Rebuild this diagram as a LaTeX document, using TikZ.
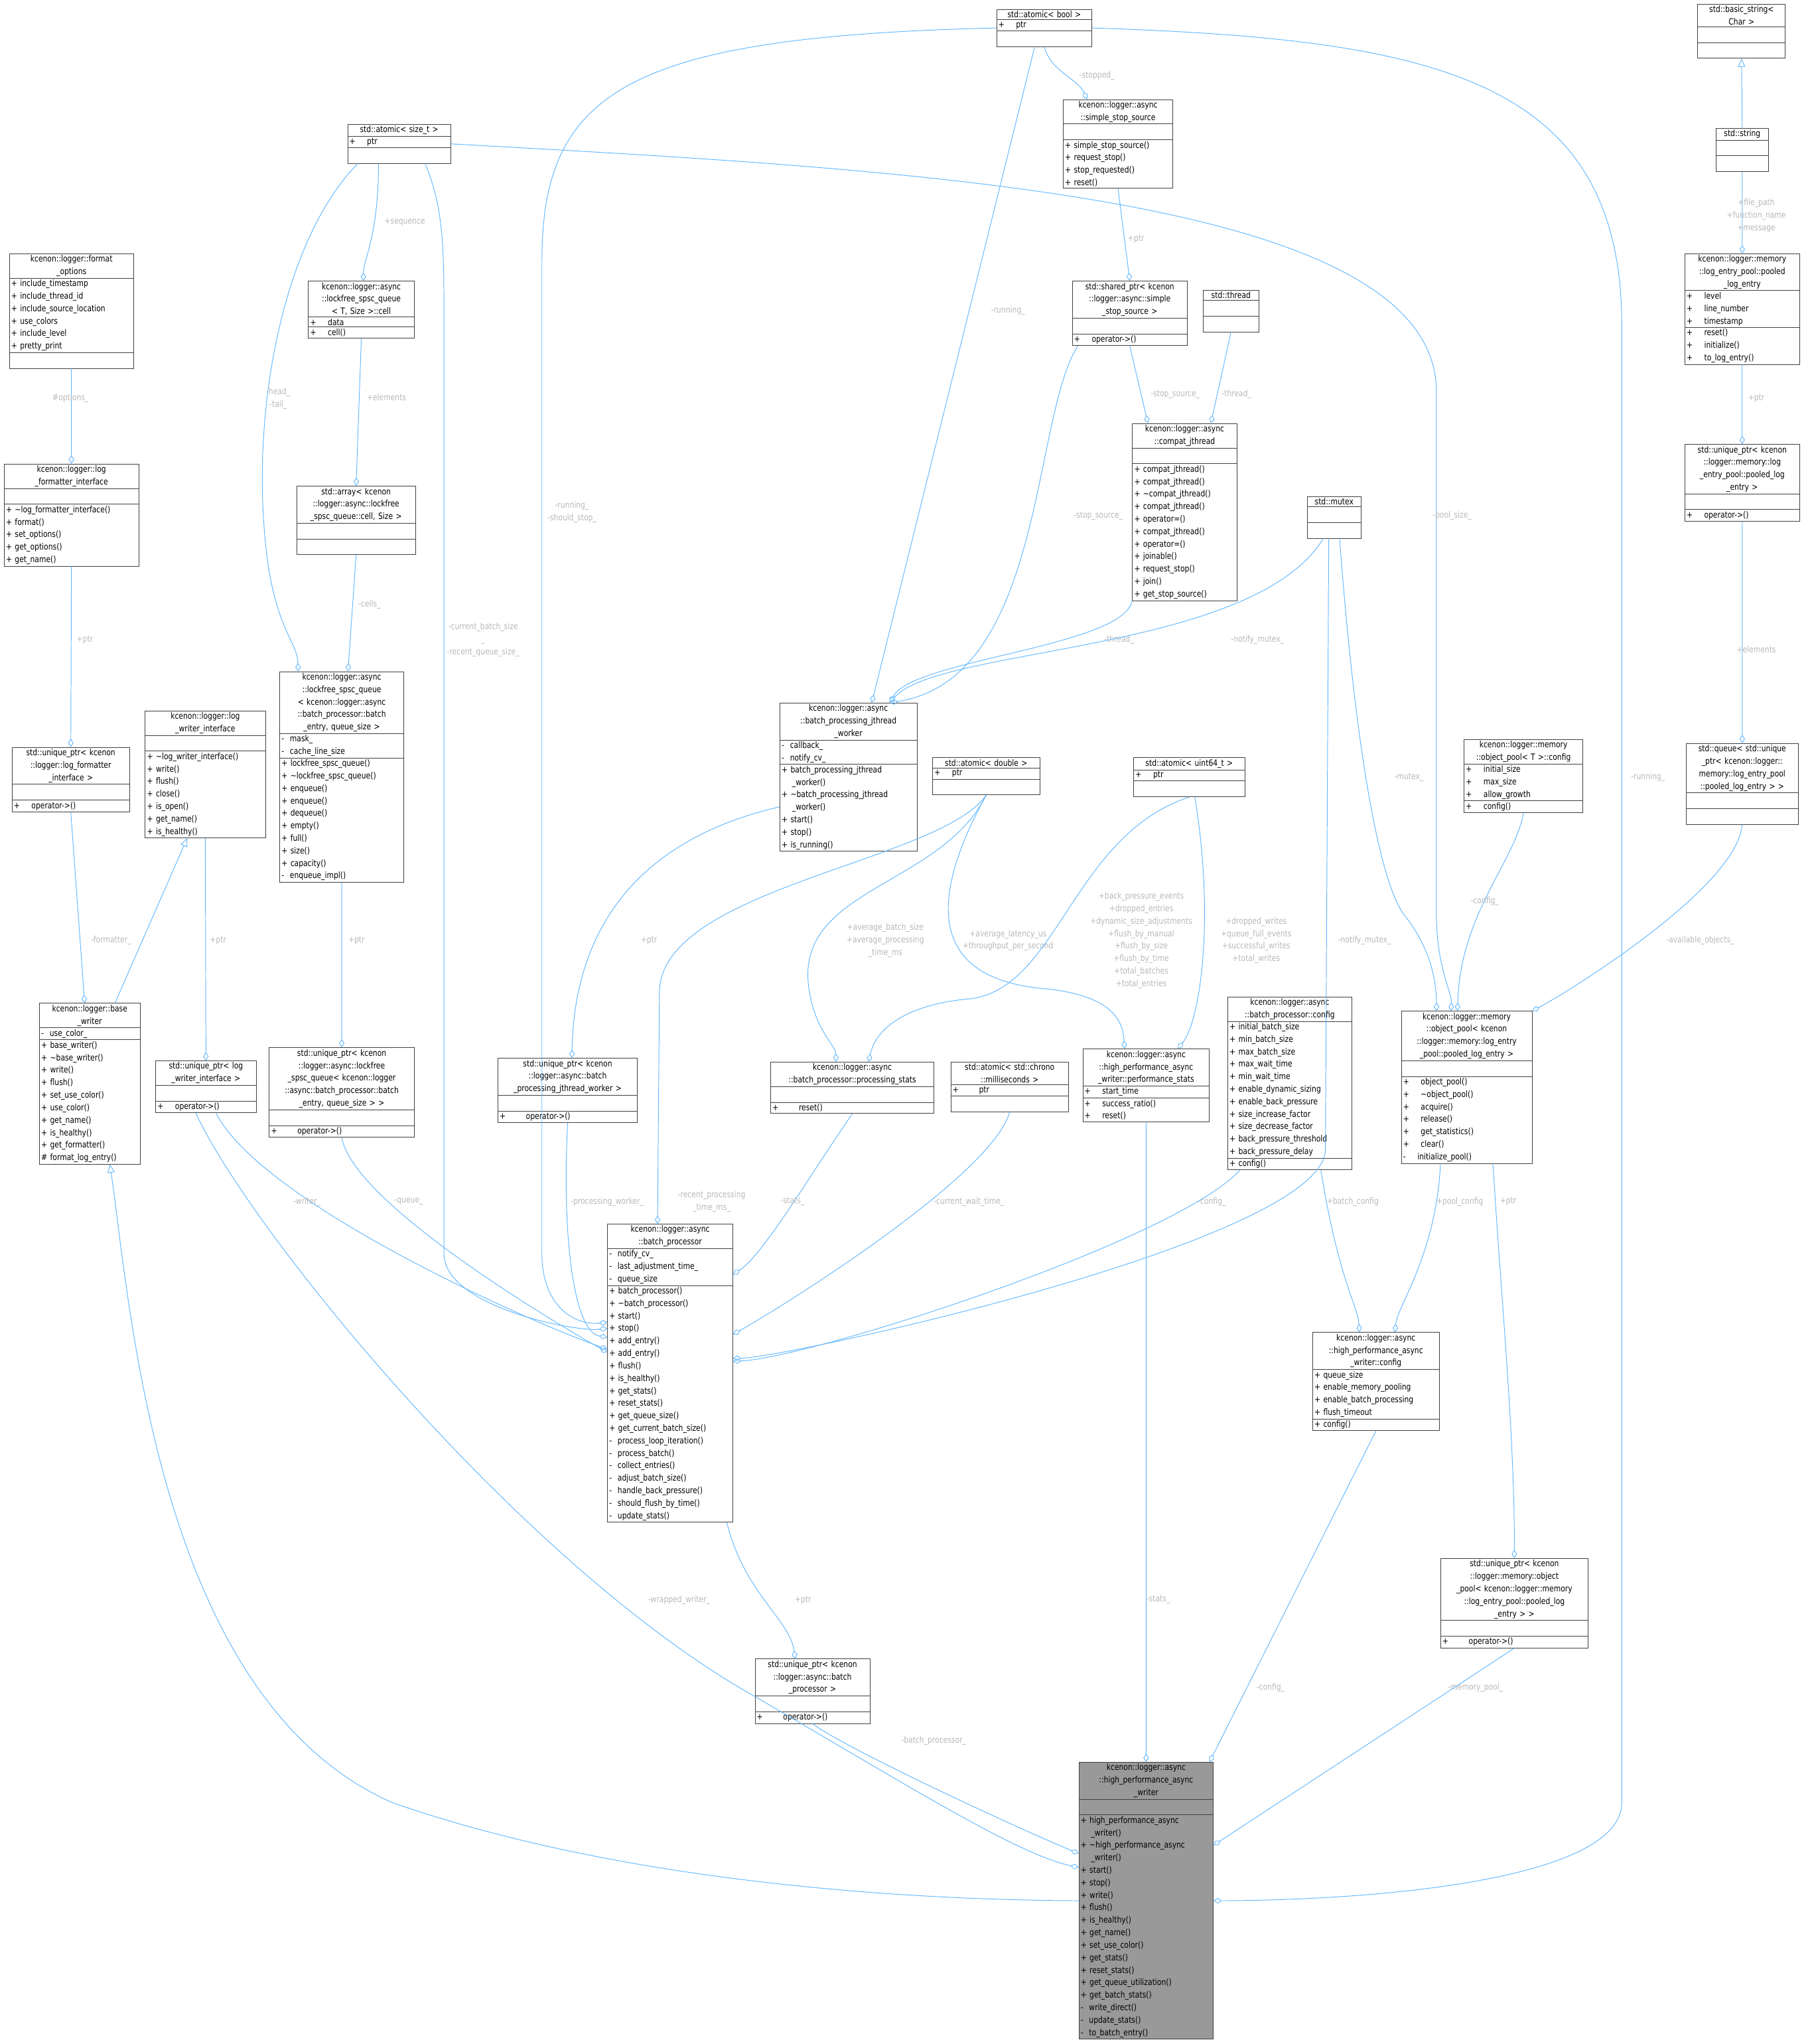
\documentclass[tikz,border=0pt]{standalone}
\usepackage{fontspec}
\usetikzlibrary{shapes.multipart,arrows.meta,calc}
\newfontfamily\dxfont[FakeStretch=0.82]{DejaVu Sans}
\newcommand\dx{\dxfont\fontsize{9.5}{13.6}\selectfont}
\newcommand\ttl[1]{\centering #1\par}
\definecolor{edgeblue}{HTML}{63B8FF}
\definecolor{lblgray}{HTML}{B8B8B8}
\tikzset{
  cls/.style={draw=black!75, line width=0.6pt, rectangle split, rectangle split parts=3,
    anchor=north west, inner xsep=2pt, inner ysep=1.5pt, font=\dx, fill=white},
  cw/.code={\pgfmathsetmacro\clsw{#1*1.4226-4}\tikzset{text width=\clsw pt}},
  mainc/.style={cls, fill=black!40},
  agg/.style={draw=edgeblue, line width=0.7pt, -{Diamond[open,length=9pt,width=6pt]}},
  inh/.style={draw=edgeblue, line width=0.7pt, {Triangle[open,length=9pt,width=8pt]}-},
  lbl/.style={text=lblgray, font=\dx, align=center, inner sep=0pt},
}
\begin{document}
\begin{tikzpicture}[x=0.05cm,y=-0.05cm]
  \useasboundingbox (0,0) rectangle (1389,1565);

  % Class boxes, top row
  \node[cls,cw=73] (atomicbool) at (763,7) {\ttl{std::atomic< bool >}\nodepart{two}+ \quad ptr\nodepart{three}\strut};
  \node[cls,cw=67] (basicstring) at (1300,3) {\ttl{std::basic\_string<\\Char >}\nodepart{two}\strut\nodepart{three}\strut};
  \node[cls,cw=84] (stopsource) at (814,76) {\ttl{kcenon::logger::async\\::simple\_stop\_source}\nodepart{two}\strut\nodepart{three}+ simple\_stop\_source()\\+ request\_stop()\\+ stop\_requested()\\+ reset()};
  \node[cls,cw=40] (stdstring) at (1314,98) {\ttl{std::string}\nodepart{two}\strut\nodepart{three}\strut};
  \node[cls,cw=79] (atomicsize) at (266,95) {\ttl{std::atomic< size\_t >}\nodepart{two}+ \quad ptr\nodepart{three}\strut};
  \node[cls,cw=95] (fmtoptions) at (7,194) {\ttl{kcenon::logger::format\\\_options}\nodepart{two}+ include\_timestamp\\+ include\_thread\_id\\+ include\_source\_location\\+ use\_colors\\+ include\_level\\+ pretty\_print\nodepart{three}\strut};
  \node[cls,cw=81] (spsccell) at (236,215) {\ttl{kcenon::logger::async\\::lockfree\_spsc\_queue\\< T, Size >::cell}\nodepart{two}+ \quad data\nodepart{three}+ \quad cell()};
  \node[cls,cw=88] (sharedstop) at (821,215) {\ttl{std::shared\_ptr< kcenon\\::logger::async::simple\\\_stop\_source >}\nodepart{two}\strut\nodepart{three}+ \quad operator->()};
  \node[cls,cw=43] (stdthread) at (921,222) {\ttl{std::thread}\nodepart{two}\strut\nodepart{three}\strut};
  \node[cls,cw=88] (pooledentry) at (1290,194) {\ttl{kcenon::logger::memory\\::log\_entry\_pool::pooled\\\_log\_entry}\nodepart{two}+ \quad level\\+ \quad line\_number\\+ \quad timestamp\nodepart{three}+ \quad reset()\\+ \quad initialize()\\+ \quad to\_log\_entry()};

  % Second row
  \node[cls,cw=103] (fmtiface) at (3,355) {\ttl{kcenon::logger::log\\\_formatter\_interface}\nodepart{two}\strut\nodepart{three}+ \textasciitilde log\_formatter\_interface()\\+ format()\\+ set\_options()\\+ get\_options()\\+ get\_name()};
  \node[cls,cw=91] (cellarray) at (227,372) {\ttl{std::array< kcenon\\::logger::async::lockfree\\\_spsc\_queue::cell, Size >}\nodepart{two}\strut\nodepart{three}\strut};
  \node[cls,cw=80] (jthread) at (867,324) {\ttl{kcenon::logger::async\\::compat\_jthread}\nodepart{two}\strut\nodepart{three}+ compat\_jthread()\\+ compat\_jthread()\\+ \textasciitilde compat\_jthread()\\+ compat\_jthread()\\+ operator=()\\+ compat\_jthread()\\+ operator=()\\+ joinable()\\+ request\_stop()\\+ join()\\+ get\_stop\_source()};
  \node[cls,cw=41] (stdmutex) at (1001,380) {\ttl{std::mutex}\nodepart{two}\strut\nodepart{three}\strut};
  \node[cls,cw=88] (uniqpooled) at (1290,340) {\ttl{std::unique\_ptr< kcenon\\::logger::memory::log\\\_entry\_pool::pooled\_log\\\_entry >}\nodepart{two}\strut\nodepart{three}+ \quad operator->()};

  % Third row
  \node[cls,cw=95] (spscqueue) at (214,514) {\ttl{kcenon::logger::async\\::lockfree\_spsc\_queue\\< kcenon::logger::async\\::batch\_processor::batch\\\_entry, queue\_size >}\nodepart{two}- \ mask\_\\- \ cache\_line\_size\nodepart{three}+ lockfree\_spsc\_queue()\\+ \textasciitilde lockfree\_spsc\_queue()\\+ enqueue()\\+ enqueue()\\+ dequeue()\\+ empty()\\+ full()\\+ size()\\+ capacity()\\- \ enqueue\_impl()};
  \node[cls,cw=92] (writeriface) at (111,544) {\ttl{kcenon::logger::log\\\_writer\_interface}\nodepart{two}\strut\nodepart{three}+ \textasciitilde log\_writer\_interface()\\+ write()\\+ flush()\\+ close()\\+ is\_open()\\+ get\_name()\\+ is\_healthy()};
  \node[cls,cw=105] (jworker) at (597,538) {\ttl{kcenon::logger::async\\::batch\_processing\_jthread\\\_worker}\nodepart{two}- \ callback\_\\- \ notify\_cv\_\nodepart{three}+ batch\_processing\_jthread\\\hspace*{1.2em}\_worker()\\+ \textasciitilde batch\_processing\_jthread\\\hspace*{1.2em}\_worker()\\+ start()\\+ stop()\\+ is\_running()};
  \node[cls,cw=90] (uniqfmt) at (9,572) {\ttl{std::unique\_ptr< kcenon\\::logger::log\_formatter\\\_interface >}\nodepart{two}\strut\nodepart{three}+ \quad operator->()};
  \node[cls,cw=82] (atomicdouble) at (714,580) {\ttl{std::atomic< double >}\nodepart{two}+ \quad ptr\nodepart{three}\strut};
  \node[cls,cw=85] (atomicuint) at (868,580) {\ttl{std::atomic< uint64\_t >}\nodepart{two}+ \quad ptr\nodepart{three}\strut};
  \node[cls,cw=91] (poolconfig) at (1121,566) {\ttl{kcenon::logger::memory\\::object\_pool< T >::config}\nodepart{two}+ \quad initial\_size\\+ \quad max\_size\\+ \quad allow\_growth\nodepart{three}+ \quad config()};
  \node[cls,cw=86] (entryqueue) at (1291,569) {\ttl{std::queue< std::unique\\\_ptr< kcenon::logger::\\memory::log\_entry\_pool\\::pooled\_log\_entry > >}\nodepart{two}\strut\nodepart{three}\strut};

  % Fourth row
  \node[cls,cw=77] (basewriter) at (30,768) {\ttl{kcenon::logger::base\\\_writer}\nodepart{two}- \ use\_color\_\nodepart{three}+ base\_writer()\\+ \textasciitilde base\_writer()\\+ write()\\+ flush()\\+ set\_use\_color()\\+ use\_color()\\+ get\_name()\\+ is\_healthy()\\+ get\_formatter()\\\# format\_log\_entry()};
  \node[cls,cw=77] (uniqwriter) at (119,812) {\ttl{std::unique\_ptr< log\\\_writer\_interface >}\nodepart{two}\strut\nodepart{three}+ \quad operator->()};
  \node[cls,cw=111] (uniqqueue) at (206,802) {\ttl{std::unique\_ptr< kcenon\\::logger::async::lockfree\\\_spsc\_queue< kcenon::logger\\::async::batch\_processor::batch\\\_entry, queue\_size > >}\nodepart{two}\strut\nodepart{three}+ \qquad operator->()};
  \node[cls,cw=107] (uniqworker) at (381,810) {\ttl{std::unique\_ptr< kcenon\\::logger::async::batch\\\_processing\_jthread\_worker >}\nodepart{two}\strut\nodepart{three}+ \qquad operator->()};
  \node[cls,cw=125] (procstats) at (590,813) {\ttl{kcenon::logger::async\\::batch\_processor::processing\_stats}\nodepart{two}\strut\nodepart{three}+ \qquad reset()};
  \node[cls,cw=90] (atomicms) at (728,813) {\ttl{std::atomic< std::chrono\\::milliseconds >}\nodepart{two}+ \qquad ptr\nodepart{three}\strut};
  \node[cls,cw=97] (perfstats) at (829,803) {\ttl{kcenon::logger::async\\::high\_performance\_async\\\_writer::performance\_stats}\nodepart{two}+ \quad start\_time\nodepart{three}+ \quad success\_ratio()\\+ \quad reset()};
  \node[cls,cw=95] (bpconfig) at (940,763) {\ttl{kcenon::logger::async\\::batch\_processor::config}\nodepart{two}+ initial\_batch\_size\\+ min\_batch\_size\\+ max\_batch\_size\\+ max\_wait\_time\\+ min\_wait\_time\\+ enable\_dynamic\_sizing\\+ enable\_back\_pressure\\+ size\_increase\_factor\\+ size\_decrease\_factor\\+ back\_pressure\_threshold\\+ back\_pressure\_delay\nodepart{three}+ config()};
  \node[cls,cw=100] (objpool) at (1073,774) {\ttl{kcenon::logger::memory\\::object\_pool< kcenon\\::logger::memory::log\_entry\\\_pool::pooled\_log\_entry >}\nodepart{two}\strut\nodepart{three}+ \quad object\_pool()\\+ \quad \textasciitilde object\_pool()\\+ \quad acquire()\\+ \quad release()\\+ \quad get\_statistics()\\+ \quad clear()\\- \quad initialize\_pool()};

  % Lower rows
  \node[cls,cw=96] (batchproc) at (465,937) {\ttl{kcenon::logger::async\\::batch\_processor}\nodepart{two}- \ notify\_cv\_\\- \ last\_adjustment\_time\_\\- \ queue\_size\nodepart{three}+ batch\_processor()\\+ \textasciitilde batch\_processor()\\+ start()\\+ stop()\\+ add\_entry()\\+ add\_entry()\\+ flush()\\+ is\_healthy()\\+ get\_stats()\\+ reset\_stats()\\+ get\_queue\_size()\\+ get\_current\_batch\_size()\\- \ process\_loop\_iteration()\\- \ process\_batch()\\- \ collect\_entries()\\- \ adjust\_batch\_size()\\- \ handle\_back\_pressure()\\- \ should\_flush\_by\_time()\\- \ update\_stats()};
  \node[cls,cw=97] (hpconfig) at (1005,1020) {\ttl{kcenon::logger::async\\::high\_performance\_async\\\_writer::config}\nodepart{two}+ queue\_size\\+ enable\_memory\_pooling\\+ enable\_batch\_processing\\+ flush\_timeout\nodepart{three}+ config()};
  \node[cls,cw=113] (uniqpool) at (1103,1193) {\ttl{std::unique\_ptr< kcenon\\::logger::memory::object\\\_pool< kcenon::logger::memory\\::log\_entry\_pool::pooled\_log\\\_entry > >}\nodepart{two}\strut\nodepart{three}+ \qquad operator->()};
  \node[cls,cw=88] (uniqbatch) at (578,1270) {\ttl{std::unique\_ptr< kcenon\\::logger::async::batch\\\_processor >}\nodepart{two}\strut\nodepart{three}+ \qquad operator->()};
  \node[mainc,cw=103] (hpwriter) at (826,1349) {\ttl{kcenon::logger::async\\::high\_performance\_async\\\_writer}\nodepart{two}\strut\nodepart{three}+ high\_performance\_async\\\hspace*{1.2em}\_writer()\\+ \textasciitilde high\_performance\_async\\\hspace*{1.2em}\_writer()\\+ start()\\+ stop()\\+ write()\\+ flush()\\+ is\_healthy()\\+ get\_name()\\+ set\_use\_color()\\+ get\_stats()\\+ reset\_stats()\\+ get\_queue\_utilization()\\+ get\_batch\_stats()\\- \ write\_direct()\\- \ update\_stats()\\- \ to\_batch\_entry()};

  % Connectors from std::atomic< bool >
  \draw[agg] (atomicbool.south) .. controls (805,55) and (825,60) .. ($(stopsource.north west)!0.22!(stopsource.north east)$);
  \node[lbl] at (840,58) {-stopped\_};
  \draw[agg] ($(atomicbool.south west)!0.4!(atomicbool.south east)$) -- ($(jworker.north west)!0.67!(jworker.north east)$);
  \node[lbl] at (772,238) {-running\_};
  \draw[agg] (atomicbool.west) .. controls (480,28) and (415,70) .. (415,200) -- (415,960) .. controls (415,1000) and (440,1015) .. ($(batchproc.north west)!0.33!(batchproc.south west)$);
  \node[lbl] at (438,392) {-running\_\\-should\_stop\_};
  \draw[agg] (atomicbool.east) .. controls (1100,30) and (1242,60) .. (1242,250) -- (1242,1380) .. controls (1242,1440) and (1050,1455) .. ($(hpwriter.north east)!0.5!(hpwriter.south east)$);
  \node[lbl] at (1262,595) {-running\_};

  % Connectors in the upper part
  \draw[agg] (stopsource.south) -- (sharedstop.north);
  \node[lbl] at (870,183) {+ptr};
  \draw[inh] (basicstring.south) -- (stdstring.north);
  \draw[agg] (stdstring.south) -- (pooledentry.north);
  \node[lbl] at (1345,165) {+file\_path\\+function\_name\\+message};
  \draw[agg] ($(atomicsize.south west)!0.3!(atomicsize.south east)$) .. controls (290,180) and (278,200) .. ($(spsccell.north west)!0.52!(spsccell.north east)$);
  \node[lbl] at (310,170) {+sequence};
  \draw[agg] ($(atomicsize.south west)!0.1!(atomicsize.south east)$) .. controls (220,180) and (195,300) .. (202,400) .. controls (207,480) and (228,490) .. ($(spscqueue.north west)!0.15!(spscqueue.north east)$);
  \node[lbl] at (213,305) {-head\_\\-tail\_};
  \draw[agg] ($(atomicsize.south west)!0.75!(atomicsize.south east)$) .. controls (340,160) and (340,190) .. (340,250) -- (340,960) .. controls (340,1000) and (440,1020) .. ($(batchproc.north west)!0.35!(batchproc.south west)$);
  \node[lbl] at (370,490) {-current\_batch\_size\\\_\\-recent\_queue\_size\_};
  \draw[agg] (atomicsize.east) .. controls (700,130) and (1100,150) .. (1100,300) -- (1100,700) .. controls (1100,740) and (1112,760) .. ($(objpool.north west)!0.38!(objpool.north east)$);
  \node[lbl] at (1112,395) {-pool\_size\_};
  \draw[agg] (fmtoptions.south) -- (fmtiface.north);
  \node[lbl] at (54,305) {\#options\_};
  \draw[agg] (spsccell.south) -- (cellarray.north);
  \node[lbl] at (296,304) {+elements};
  \draw[agg] (cellarray.south) -- ($(spscqueue.north west)!0.55!(spscqueue.north east)$);
  \node[lbl] at (283,463) {-cells\_};
  \draw[agg] (sharedstop.south) -- ($(jthread.north west)!0.15!(jthread.north east)$);
  \node[lbl] at (900,302) {-stop\_source\_};
  \draw[agg] (stdthread.south) -- ($(jthread.north west)!0.75!(jthread.north east)$);
  \node[lbl] at (947,302) {-thread\_};
  \draw[agg] ($(sharedstop.south west)!0.05!(sharedstop.south east)$) .. controls (790,320) and (800,520) .. ($(jworker.north west)!0.8!(jworker.north east)$);
  \node[lbl] at (841,395) {-stop\_source\_};
  \draw[agg] (jthread.south west) .. controls (860,495) and (700,505) .. ($(jworker.north west)!0.8!(jworker.north east)$);
  \node[lbl] at (857,490) {-thread\_};
  \draw[agg] ($(stdmutex.south west)!0.3!(stdmutex.south east)$) .. controls (960,500) and (720,495) .. ($(jworker.north west)!0.8!(jworker.north east)$);
  \node[lbl] at (963,490) {-notify\_mutex\_};
  \draw[agg] ($(stdmutex.south west)!0.6!(stdmutex.south east)$) .. controls (1040,600) and (1060,680) .. (1075,700) .. controls (1095,725) and (1100,750) .. ($(objpool.north west)!0.27!(objpool.north east)$);
  \node[lbl] at (1079,595) {-mutex\_};
  \draw[agg] ($(stdmutex.south west)!0.4!(stdmutex.south east)$) -- (1015,880) .. controls (1015,950) and (600,1040) .. ($(batchproc.north east)!0.45!(batchproc.south east)$);
  \node[lbl] at (1045,720) {-notify\_mutex\_};
  \draw[agg] (pooledentry.south) -- (uniqpooled.north);
  \node[lbl] at (1345,305) {+ptr};
  \draw[agg] (uniqpooled.south) -- (entryqueue.north);
  \node[lbl] at (1345,497) {+elements};

  % Connectors in the middle part
  \draw[agg] (fmtiface.south) -- (uniqfmt.north);
  \node[lbl] at (65,490) {+ptr};
  \draw[agg] (uniqfmt.south) -- ($(basewriter.north west)!0.45!(basewriter.north east)$);
  \node[lbl] at (85,720) {-formatter\_};
  \draw[inh] ($(writeriface.south west)!0.35!(writeriface.south east)$) -- ($(basewriter.north west)!0.75!(basewriter.north east)$);
  \draw[agg] ($(writeriface.south west)!0.5!(writeriface.south east)$) -- (uniqwriter.north);
  \node[lbl] at (167,720) {+ptr};
  \draw[agg] (spscqueue.south) -- (uniqqueue.north);
  \node[lbl] at (273,720) {+ptr};
  \draw[agg] ($(jworker.north west)!0.7!(jworker.south west)$) .. controls (500,640) and (440,700) .. ($(uniqworker.north west)!0.53!(uniqworker.north east)$);
  \node[lbl] at (497,720) {+ptr};
  \draw[agg] (atomicdouble.south) .. controls (720,680) and (605,680) .. (620,760) .. controls (625,790) and (640,800) .. ($(procstats.north west)!0.4!(procstats.north east)$);
  \node[lbl] at (678,720) {+average\_batch\_size\\+average\_processing\\\_time\_ms};
  \draw[agg] (atomicdouble.south) .. controls (705,700) and (720,750) .. (800,757) .. controls (850,762) and (860,780) .. ($(perfstats.north west)!0.33!(perfstats.north east)$);
  \node[lbl] at (772,720) {+average\_latency\_us\\+throughput\_per\_second};
  \draw[agg] (atomicdouble.south) .. controls (720,660) and (505,680) .. (505,760) -- ($(batchproc.north west)!0.4!(batchproc.north east)$);
  \node[lbl] at (545,920) {-recent\_processing\\\_time\_ms\_};
  \draw[agg] (atomicuint.south) .. controls (820,640) and (810,760) .. (740,765) .. controls (690,770) and (670,790) .. ($(procstats.north west)!0.6!(procstats.north east)$);
  \node[lbl] at (874,720) {+back\_pressure\_events\\+dropped\_entries\\+dynamic\_size\_adjustments\\+flush\_by\_manual\\+flush\_by\_size\\+flush\_by\_time\\+total\_batches\\+total\_entries};
  \draw[agg] ($(atomicuint.south west)!0.55!(atomicuint.south east)$) .. controls (930,700) and (920,780) .. ($(perfstats.north west)!0.75!(perfstats.north east)$);
  \node[lbl] at (962,720) {+dropped\_writes\\+queue\_full\_events\\+successful\_writes\\+total\_writes};
  \draw[agg] (poolconfig.south) .. controls (1160,660) and (1118,700) .. ($(objpool.north west)!0.43!(objpool.north east)$);
  \node[lbl] at (1137,690) {-config\_};
  \draw[agg] (entryqueue.south) .. controls (1330,680) and (1200,760) .. (objpool.north east);
  \node[lbl] at (1302,720) {-available\_objects\_};

  % Connectors into batch_processor
  \draw[agg] ($(uniqwriter.south west)!0.6!(uniqwriter.south east)$) .. controls (200,920) and (400,1010) .. ($(batchproc.north west)!0.42!(batchproc.south west)$);
  \node[lbl] at (235,920) {-writer\_};
  \draw[agg] (uniqqueue.south) .. controls (270,920) and (420,1010) .. ($(batchproc.north west)!0.43!(batchproc.south west)$);
  \node[lbl] at (313,920) {-queue\_};
  \draw[agg] (uniqworker.south) .. controls (430,950) and (440,1020) .. ($(batchproc.north west)!0.38!(batchproc.south west)$);
  \node[lbl] at (465,920) {-processing\_worker\_};
  \draw[agg] (procstats.south) .. controls (620,900) and (585,960) .. ($(batchproc.north east)!0.17!(batchproc.south east)$);
  \node[lbl] at (607,920) {-stats\_};
  \draw[agg] (atomicms.south) .. controls (760,900) and (600,1000) .. ($(batchproc.north east)!0.37!(batchproc.south east)$);
  \node[lbl] at (742,920) {-current\_wait\_time\_};
  \draw[agg] ($(bpconfig.south west)!0.1!(bpconfig.south east)$) .. controls (900,950) and (620,1040) .. ($(batchproc.north east)!0.46!(batchproc.south east)$);
  \node[lbl] at (928,920) {-config\_};

  % Connectors into the config and pool
  \draw[agg] ($(bpconfig.south west)!0.75!(bpconfig.south east)$) .. controls (1025,980) and (1040,1000) .. ($(hpconfig.north west)!0.37!(hpconfig.north east)$);
  \node[lbl] at (1036,920) {+batch\_config};
  \draw[agg] ($(objpool.south west)!0.3!(objpool.south east)$) .. controls (1100,960) and (1070,1000) .. ($(hpconfig.north west)!0.65!(hpconfig.north east)$);
  \node[lbl] at (1118,920) {+pool\_config};
  \draw[agg] ($(objpool.south west)!0.7!(objpool.south east)$) .. controls (1150,1000) and (1160,1100) .. (uniqpool.north);
  \node[lbl] at (1155,920) {+ptr};

  % Connectors into high_performance_async_writer
  \draw[inh] ($(basewriter.south west)!0.7!(basewriter.south east)$) .. controls (100,1000) and (120,1300) .. (300,1380) .. controls (500,1450) and (750,1455) .. ($(hpwriter.north west)!0.5!(hpwriter.south west)$);
  \draw[agg] ($(uniqwriter.south west)!0.4!(uniqwriter.south east)$) .. controls (190,940) and (400,1200) .. (580,1300) .. controls (700,1370) and (780,1420) .. ($(hpwriter.north west)!0.38!(hpwriter.south west)$);
  \node[lbl] at (520,1225) {-wrapped\_writer\_};
  \draw[agg] ($(batchproc.south west)!0.95!(batchproc.south east)$) .. controls (570,1220) and (605,1240) .. ($(uniqbatch.north west)!0.35!(uniqbatch.north east)$);
  \node[lbl] at (615,1225) {+ptr};
  \draw[agg] (uniqbatch.south) .. controls (650,1340) and (780,1400) .. ($(hpwriter.north west)!0.33!(hpwriter.south west)$);
  \node[lbl] at (715,1333) {-batch\_processor\_};
  \draw[agg] (perfstats.south) -- ($(hpwriter.north west)!0.5!(hpwriter.north east)$);
  \node[lbl] at (887,1225) {-stats\_};
  \draw[agg] (hpconfig.south) -- ($(hpwriter.north west)!0.97!(hpwriter.north east)$);
  \node[lbl] at (973,1292) {-config\_};
  \draw[agg] (uniqpool.south) -- ($(hpwriter.north east)!0.3!(hpwriter.south east)$);
  \node[lbl] at (1130,1292) {-memory\_pool\_};
\end{tikzpicture}
\end{document}
